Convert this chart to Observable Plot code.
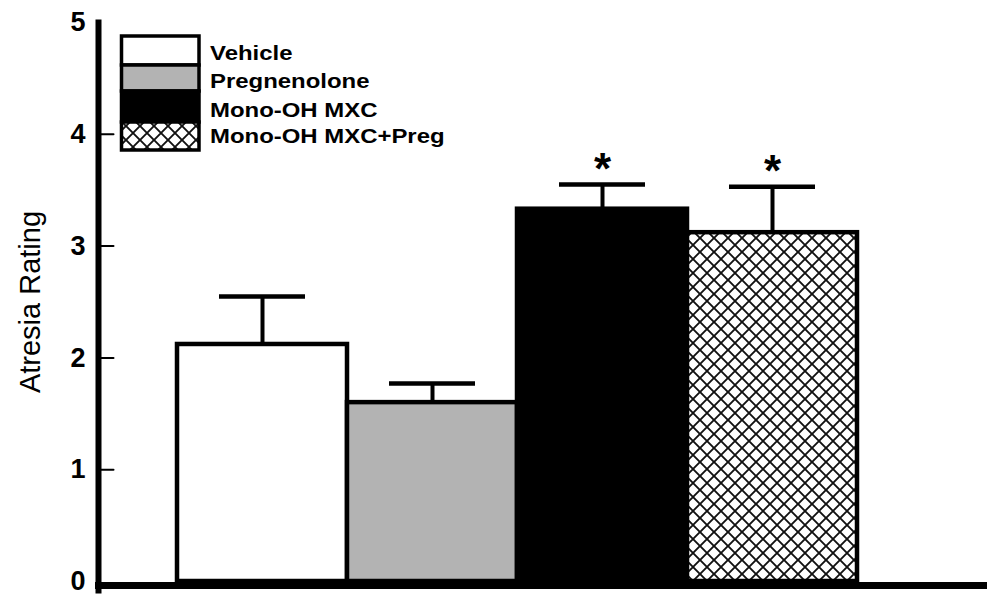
<!DOCTYPE html>
<html>
<head>
<meta charset="utf-8">
<script src="https://cdn.jsdelivr.net/npm/d3@7"></script>
<script src="https://cdn.jsdelivr.net/npm/@observablehq/plot@0.6"></script>
<style>
  html, body { margin: 0; padding: 0; background: #fff; }
  #chart { width: 987px; height: 595px; }
</style>
</head>
<body>
<div id="chart"></div>
<script>
// ---- data ----
const groups = ["Vehicle", "Pregnenolone", "Mono-OH MXC", "Mono-OH MXC+Preg"];
const means = [2.12, 1.60, 3.33, 3.12];
const sems = [0.43, 0.17, 0.22, 0.41];
const fills = ["white", "#b3b3b3", "black", "url(#hatch)"];
const significant = [false, false, true, true];
const yTicks = [0, 1, 2, 3, 4, 5];
const innerTicks = [1, 2, 3, 4];
const yLabel = "Atresia Rating";
const starText = "*";

const data = groups.map((g, i) => ({
  group: g, mean: means[i], upper: means[i] + sems[i], fill: fills[i], sig: significant[i]
}));

const tickShape = { draw(context, l) { context.moveTo(0, 0); context.lineTo(l, 0); } };

const svg = Plot.plot({
  width: 987,
  height: 595,
  marginLeft: 98,
  marginRight: 0,
  marginTop: 22,
  marginBottom: 14,
  style: { fontFamily: "Arial, 'Liberation Sans', sans-serif", background: "white", color: "black" },
  x: { domain: groups, axis: null, padding: 0, paddingOuter: 0.61, align: 0.38 },
  y: { domain: [0, 5], axis: null },
  color: { type: "identity" },
  marks: [
    Plot.barY(data, { x: "group", y: "mean", fill: "fill", stroke: "black", strokeWidth: 4.5 }),
    Plot.ruleX(data, { x: "group", y1: "mean", y2: "upper", stroke: "black", strokeWidth: 4 }),
    Plot.tickY(data, { x: "group", y: "upper", stroke: "black", strokeWidth: 4.5, insetLeft: 42, insetRight: 42 }),
    Plot.text(data.filter(d => d.sig), { x: "group", y: "upper", text: () => starText, fontSize: 44, fontWeight: "bold", lineAnchor: "bottom", dy: -1 }),
    Plot.vector(innerTicks, { y: d => d, frameAnchor: "left", length: 15, rotate: 0, anchor: "start", shape: tickShape, stroke: "black", strokeWidth: 2 }),
    Plot.frame({ anchor: "left", stroke: "black", strokeWidth: 6, insetBottom: -9 }),
    Plot.ruleY([0], { stroke: "black", strokeWidth: 7, dy: 4, insetLeft: -3 }),
    Plot.axisY({ ticks: yTicks, tickSize: 0, tickPadding: 13, fontSize: 27, fontWeight: "bold", label: null, tickFormat: d => String(d) }),
    Plot.text([yLabel], { frameAnchor: "left", text: d => d, rotate: -90, dx: -68, fontSize: 29, lineAnchor: "middle", textAnchor: "middle" })
  ]
});

const root = d3.select(svg);
const defs = root.insert("defs", ":first-child");
const pat = defs.append("pattern")
  .attr("id", "hatch").attr("patternUnits", "userSpaceOnUse")
  .attr("width", 14).attr("height", 14);
pat.append("rect").attr("width", 14).attr("height", 14).attr("fill", "white");
pat.append("path").attr("d", "M-1,-1L15,15M15,-1L-1,15")
  .attr("stroke", "#111").attr("stroke-width", 1.9).attr("fill", "none");

// ---- legend ----
const rowTops = [36, 65, 91, 122];
const rowBottoms = [65, 91, 122, 150];
const baselines = [60, 88, 117, 143];
const lg = root.append("g").attr("class", "legend");
lg.selectAll("rect.sw").data(groups).join("rect")
  .attr("class", "sw")
  .attr("x", 121.5).attr("width", 77.5)
  .attr("y", (d, i) => rowTops[i]).attr("height", (d, i) => rowBottoms[i] - rowTops[i])
  .attr("fill", (d, i) => fills[i]).attr("stroke", "black").attr("stroke-width", 3.5);
lg.selectAll("g.lbl").data(groups).join("g")
  .attr("class", "lbl")
  .attr("transform", (d, i) => `translate(210,${baselines[i]}) scale(1.14,1)`)
  .append("text")
  .attr("text-anchor", "start")
  .attr("font-size", 21).attr("font-weight", "bold").attr("fill", "black")
  .attr("font-family", "Arial, 'Liberation Sans', sans-serif")
  .text(d => d);

document.getElementById("chart").appendChild(svg);
</script>
</body>
</html>
